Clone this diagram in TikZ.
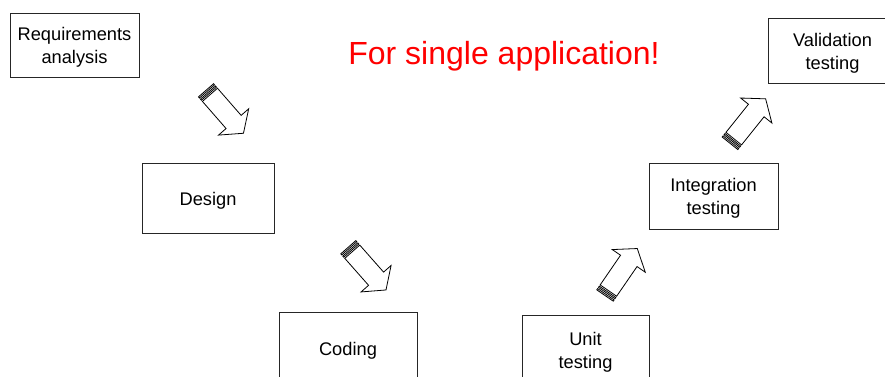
\documentclass[tikz,border=0pt]{standalone}
\usepackage{fontspec}
\setmainfont{Liberation Sans}
\begin{document}
\begin{tikzpicture}[x=0.75pt,y=-0.75pt,
  stagebox/.style={draw=black!85, line width=0.75pt, fill=white, inner sep=0pt},
  stagetext/.style={align=center, inner sep=0pt, yshift=-2pt,
    font=\fontsize{13.7pt}{17.25pt}\selectfont},
  arrline/.style={draw=black, line width=0.6pt, fill=white, line join=miter},
  pics/striparrow/.style={code={
    \path[arrline] (0,-10) rectangle (1.5,10);
    \path[arrline] (3,-10) rectangle (4.5,10);
    \path[arrline] (6,-10) -- (42,-10) -- (42,-20) -- (57,0) -- (42,20) -- (42,10) -- (6,10) -- cycle;
  }}]
\useasboundingbox (0,0) rectangle (885,376);
\fill[white] (0,0) rectangle (885,376);

\node[stagebox, minimum width=96.75pt, minimum height=48pt] (req) at (74.5,45) {};
\node[stagetext] (reqt) at (req.center) {Requirements\\analysis};
\node[stagebox, minimum width=99pt, minimum height=52.5pt] (des) at (208,198) {};
\node[stagetext] (dest) at (des.center) {Design};
\node[stagebox, minimum width=103.5pt, minimum height=54pt] (cod) at (348,348) {};
\node[stagetext] (codt) at (cod.center) {Coding};
\node[stagebox, minimum width=95.25pt, minimum height=51.75pt] (unit) at (585.5,349.5) {};
\node[stagetext] (unitt) at (unit.center) {Unit\\testing};
\node[stagebox, minimum width=96.75pt, minimum height=49.5pt] (integ) at (713.5,196) {};
\node[stagetext] (integt) at (integ.center) {Integration\\testing};
\node[stagebox, minimum width=96.75pt, minimum height=48.75pt] (val) at (832.5,50.5) {};
\node[stagetext] (valt) at (val.center) {Validation\\testing};

\node[anchor=base, text=red, font=\fontsize{24pt}{28pt}\selectfont] (title) at (504,64) {For single application!};

\pic[rotate=-48.9] at (206,90.3) {striparrow};
\pic[rotate=-48.6] at (348.3,247.2) {striparrow};
\pic[rotate=55.5] at (605,295.5) {striparrow};
\pic[rotate=51.3] at (730,143.3) {striparrow};
\end{tikzpicture}
\end{document}
